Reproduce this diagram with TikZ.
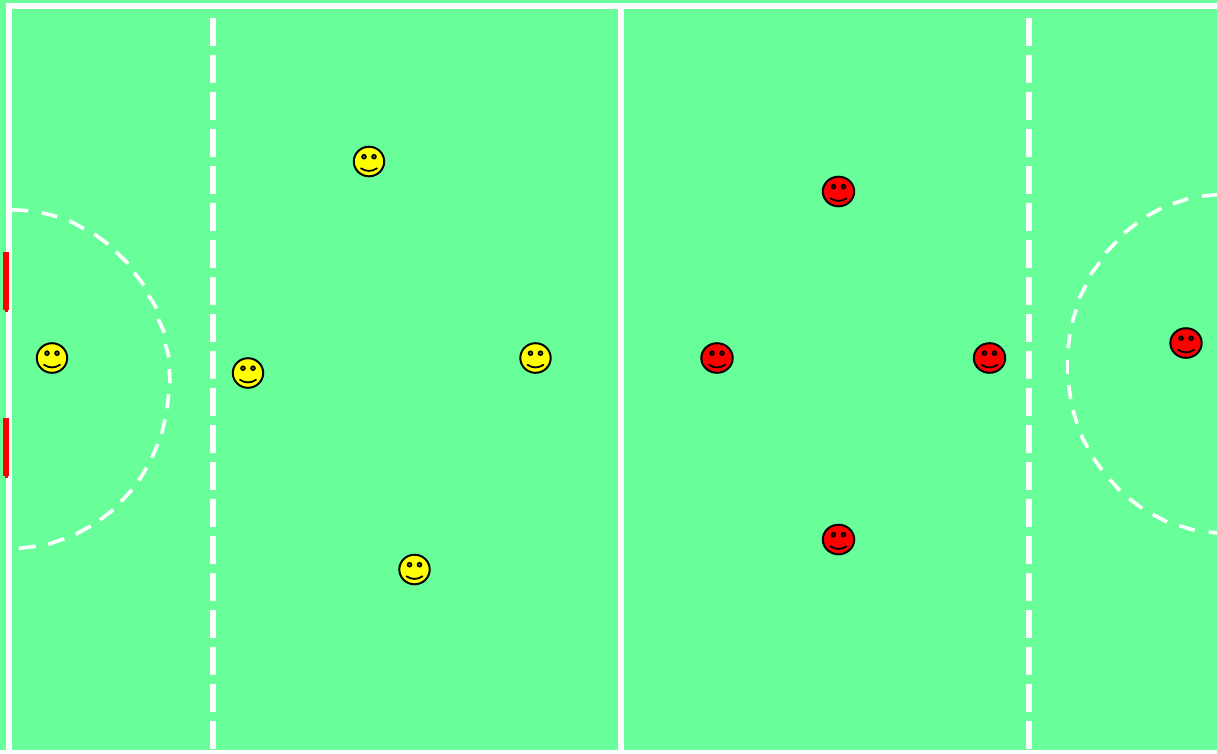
\documentclass[tikz,border=0pt]{standalone}
\usetikzlibrary{shapes.geometric}
\definecolor{pitch}{HTML}{68FF9A}
\definecolor{teamred}{HTML}{FF0000}
\definecolor{teamyellow}{HTML}{FFFF00}
\tikzset{
  pline/.style={draw=white,line width=6pt},
  halfway/.style={draw=white,line width=6pt,dash pattern=on 28pt off 9pt},
  crease/.style={draw=white,line width=3.6pt},
  goalpost/.style={draw=red,line width=6pt},
  goaltab/.style={draw=red,line width=3pt},
  facebody/.style={ellipse,draw=black,line width=2pt,inner sep=0pt,minimum width=#1,minimum height=29.6pt},
  faceline/.style={draw=black,line width=1.8pt,line cap=round},
  faceeye/.style={circle,draw=black,line width=1.5pt,inner sep=0pt,minimum size=4pt}
}
\newcommand{\smiley}[4]{%
  \node[facebody=#4,fill=#2] (#1) at (#3) {};
  \node[faceeye,fill=#2!45!black] (#1l) at ([shift={(-5pt,4.8pt)}]#1.center) {};
  \node[faceeye,fill=#2!45!black] (#1r) at ([shift={(5pt,4.8pt)}]#1.center) {};
  \draw[faceline] ([shift={(-8pt,-6.8pt)}]#1.center) .. controls ([shift={(-3pt,-10.3pt)}]#1.center) and ([shift={(3pt,-10.3pt)}]#1.center) .. ([shift={(8pt,-6.8pt)}]#1.center);
}
\begin{document}
\begin{tikzpicture}[x=1pt,y=-1pt]
\useasboundingbox (0,0) rectangle (1217,753);
\fill[pitch] (0,0) rectangle (1217,750);
\fill[white] (0,750) rectangle (1217,753);
\begin{scope}
\clip (0,0) rectangle (1217,750);
\coordinate (tl) at (9,6);
\coordinate (tr) at (1217,6);
\coordinate (bl) at (9,750);
\coordinate (mt) at (621,6);
\coordinate (mb) at (621,750);
\draw[pline] (tr) -- (tl) -- (bl);
\draw[pline] (mt) -- (mb);
\coordinate (d1t) at (213,18);
\coordinate (d1b) at (213,750);
\coordinate (d2t) at (1029,18);
\coordinate (d2b) at (1029,750);
\draw[halfway] (d1t) -- (d1b);
\draw[halfway] (d2t) -- (d2b);
\foreach \xa/\ya/\xb/\yb in {
 12/209.7/28.3/210.7, 41.7/212.7/57.3/216.7, 69.3/220.7/84/228.7, 94.3/234/108.3/244.3,
 116/251.7/128.3/263.7, 134.3/272.7/144/285.3, 148.3/295/156.7/308.3, 158.3/319/164.3/332.7,
 165.3/344/169/357.3, 169.3/369/170/383.3, 168.7/394.3/167/408.3, 165/419.3/161.7/433.7,
 157.7/444/152/457.7, 146.7/467.7/138.7/480.7, 132/489.7/121/501.7, 113.3/509.7/100/520,
 90.7/526/75.7/534.3, 64.3/538.7/48.3/544.3, 35.7/546.3/18.7/548.3,
 1217/194.7/1202/196, 1188/198.7/1173/203.7, 1161.3/208.3/1147/216, 1137/223/1124.3/233,
 1116.7/241.3/1105.7/253, 1099.7/262.3/1090.3/275, 1086/285/1079.3/298.3, 1076.3/309.3/1072/322.7,
 1070/334.3/1068/348.3, 1067.3/360/1067.3/373.7, 1068.7/385/1070.7/399, 1073/410/1077/423.7,
 1081/435/1087.7/447.7, 1093.3/458/1102/470, 1109.7/479.3/1120/490.7, 1129.3/498.7/1142/508.3,
 1152.7/514.3/1167/522, 1179.3/525.7/1194.7/530.3, 1208.7/532/1217/533}
 {\draw[crease] (\xa,\ya) -- (\xb,\yb);}
\end{scope}
\coordinate (g1t) at (6.3,252.3);
\coordinate (g1b) at (6.3,310);
\coordinate (g1e) at (6.3,312);
\coordinate (g2t) at (6.3,418.3);
\coordinate (g2b) at (6.3,476);
\coordinate (g2e) at (6.3,478);
\draw[goalpost] (g1t) -- (g1b);
\draw[goaltab] (g1b) -- (g1e);
\draw[goalpost] (g2t) -- (g2b);
\draw[goaltab] (g2b) -- (g2e);
\smiley{ya}{teamyellow}{52,358}{30.4pt}
\smiley{yb}{teamyellow}{369,161.5}{30.4pt}
\smiley{yc}{teamyellow}{248,373}{30.4pt}
\smiley{yd}{teamyellow}{535.5,358}{30.4pt}
\smiley{ye}{teamyellow}{414.5,569.5}{30.4pt}
\smiley{ra}{teamred}{717,358}{31.4pt}
\smiley{rb}{teamred}{838.5,191.5}{31.4pt}
\smiley{rc}{teamred}{838.5,539.5}{31.4pt}
\smiley{rd}{teamred}{989.5,358}{31.4pt}
\smiley{re}{teamred}{1186,343}{31.4pt}
\end{tikzpicture}
\end{document}
